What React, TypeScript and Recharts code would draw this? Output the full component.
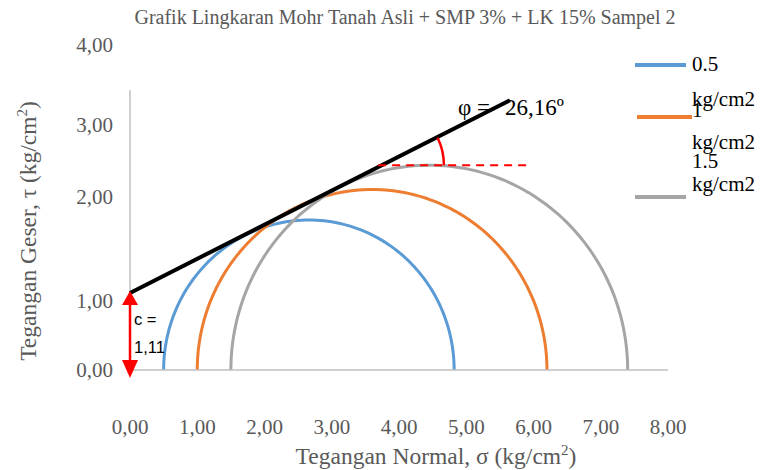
import React from "react";
import {
  ComposedChart,
  Line,
  XAxis,
  YAxis,
  ReferenceLine,
  ReferenceDot,
} from "recharts";

// confining stress (sigma3) and major principal stress (sigma1) per sample, kg/cm2
const SIGMA3 = [0.5, 1.0, 1.5];
const SIGMA1 = [4.82, 6.2, 7.4];
const SERIES_NAMES = ["0.5 kg/cm2", "1 kg/cm2", "1.5 kg/cm2"];
const COLORS = ["#5B9BD5", "#ED7D31", "#A5A5A5"];

const X_TICKS = [0, 1, 2, 3, 4, 5, 6, 7, 8];
// the y labels in the source sit at uneven heights
const Y_TICKS = [0, 1.0, 2.5, 3.53, 4.68];
const Y_TICK_LABELS = ["0,00", "1,00", "2,00", "3,00", "4,00"];
const Y_MAX = 4.68;
const Y_AXIS_TOP = 4.03;

const COHESION = 1.11;
const PHI_DEG = 26.16;
const ENVELOPE_END = 5.65;
const DASH_FROM = 3.69;
const DASH_TO = 5.98;

const FONT = "'Liberation Serif', 'Times New Roman', serif";
const SANS = "'Liberation Sans', Arial, sans-serif";
const GREY_TEXT = "#595959";

const fmt = (v: number) => v.toFixed(2).replace(".", ",");

// half circle through (s3,0) and (s1,0)
function mohrCircle(s3: number, s1: number) {
  const c = (s1 + s3) / 2;
  const r = (s1 - s3) / 2;
  const pts = [];
  for (let i = 0; i <= 120; i++) {
    const a = Math.PI - (Math.PI * i) / 120;
    pts.push({ x: c + r * Math.cos(a), y: r * Math.sin(a) });
  }
  return pts;
}

const tanPhi = Math.tan((PHI_DEG * Math.PI) / 180);
const envelope = [
  { x: 0, y: COHESION },
  { x: ENVELOPE_END, y: COHESION + tanPhi * ENVELOPE_END },
];
const topTau = (SIGMA1[2] - SIGMA3[2]) / 2;
const arcAt = { x: (topTau - COHESION) / tanPhi, y: topTau };

const ArrowUp = (p: any) => (
  <g>
    <polygon
      points={`${p.cx - 8},${p.cy + 12} ${p.cx + 8},${p.cy + 12} ${p.cx},${p.cy - 2}`}
      fill="#FF0000"
    />
    <text x={p.cx + 4} y={p.cy + 32} fontFamily={SANS} fontSize={16.5} fill="#000">
      c =
    </text>
    <text x={p.cx + 4} y={p.cy + 60} fontFamily={SANS} fontSize={16.5} fill="#000">
      {fmt(COHESION)}
    </text>
  </g>
);

const ArrowDown = (p: any) => (
  <polygon
    points={`${p.cx - 8},${p.cy - 10} ${p.cx + 8},${p.cy - 10} ${p.cx},${p.cy + 8}`}
    fill="#FF0000"
  />
);

const PhiArc = (p: any) => {
  const r = 62;
  const a = (PHI_DEG * Math.PI) / 180;
  const ex = p.cx + r * Math.cos(a);
  const ey = p.cy - r * Math.sin(a);
  return (
    <path
      d={`M ${p.cx + r} ${p.cy} A ${r} ${r} 0 0 0 ${ex} ${ey}`}
      fill="none"
      stroke="#FF0000"
      strokeWidth={2.5}
    />
  );
};

const PhiLabel = (p: any) => (
  <text y={p.cy + 15} fontFamily={FONT} fontSize={23} fill="#000">
    <tspan x={p.cx - 52}>φ =</tspan>
    <tspan x={p.cx - 5}>{`${fmt(PHI_DEG)}º`}</tspan>
  </text>
);

// legend rows copy the odd wrapping of the source picture
const LEGEND_LINE_Y = [65, 117, 197];
const LEGEND_LINE_X = [[635, 686], [637, 692], [635, 686]];
const LEGEND_TEXT_Y = [[71, 106], [117, 149], [168, 191]];

export default function App() {
  return (
    <div style={{ position: "absolute", left: 0, top: 0, width: 765, height: 470, background: "#fff" }}>
      <ComposedChart width={765} height={470} margin={{ top: 45, right: 97, left: 60, bottom: 0 }}>
        <XAxis
          type="number"
          dataKey="x"
          domain={[0, 8]}
          ticks={X_TICKS}
          tickFormatter={fmt}
          axisLine={{ stroke: "#BFBFBF", strokeWidth: 1.5 }}
          tickLine={false}
          tickMargin={43}
          height={100}
          tick={{ fontFamily: FONT, fontSize: 21, fill: GREY_TEXT }}
        />
        <YAxis
          type="number"
          domain={[0, Y_MAX]}
          ticks={Y_TICKS}
          tickFormatter={(v: number, i: number) => Y_TICK_LABELS[i]}
          axisLine={false}
          tickLine={false}
          tickMargin={11}
          width={70}
          tick={{ fontFamily: FONT, fontSize: 21, fill: GREY_TEXT }}
        />
        <ReferenceLine
          segment={[{ x: 0, y: 0 }, { x: 0, y: Y_AXIS_TOP }]}
          stroke="#BFBFBF"
          strokeWidth={1.5}
        />
        {SIGMA3.map((s3, i) => (
          <Line
            key={SERIES_NAMES[i]}
            name={SERIES_NAMES[i]}
            data={mohrCircle(s3, SIGMA1[i])}
            dataKey="y"
            type="linear"
            stroke={COLORS[i]}
            strokeWidth={3}
            dot={false}
            isAnimationActive={false}
          />
        ))}
        <Line
          data={envelope}
          dataKey="y"
          type="linear"
          stroke="#000"
          strokeWidth={4}
          dot={false}
          isAnimationActive={false}
        />
        <ReferenceLine
          segment={[{ x: DASH_FROM, y: topTau }, { x: DASH_TO, y: topTau }]}
          stroke="#FF0000"
          strokeWidth={2}
          strokeDasharray="8 6"
        />
        <ReferenceLine
          segment={[{ x: 0, y: 0 }, { x: 0, y: COHESION }]}
          stroke="#FF0000"
          strokeWidth={2.5}
          ifOverflow="visible"
        />
        <ReferenceDot x={0} y={COHESION} r={0} shape={ArrowUp} ifOverflow="visible" />
        <ReferenceDot x={0} y={0} r={0} shape={ArrowDown} ifOverflow="visible" />
        <ReferenceDot x={arcAt.x} y={arcAt.y} r={0} shape={PhiArc} ifOverflow="visible" />
        <ReferenceDot x={envelope[1].x} y={envelope[1].y} r={0} shape={PhiLabel} ifOverflow="visible" />
      </ComposedChart>

      <svg
        width={765}
        height={470}
        style={{ position: "absolute", left: 0, top: 0, pointerEvents: "none" }}
      >
        <text x={405} y={24} textAnchor="middle" fontFamily={FONT} fontSize={20} fill={GREY_TEXT}>
          Grafik Lingkaran Mohr Tanah Asli + SMP 3% + LK 15% Sampel 2
        </text>
        <text x={436} y={464} textAnchor="middle" fontFamily={FONT} fontSize={23.5} fill={GREY_TEXT}>
          Tegangan Normal, σ (kg/cm<tspan dy={-9} fontSize={15}>2</tspan>
          <tspan dy={9}>)</tspan>
        </text>
        <text
          transform="translate(36 231) rotate(-90)"
          textAnchor="middle"
          fontFamily={FONT}
          fontSize={23.5}
          fill={GREY_TEXT}
        >
          Tegangan Geser, τ (kg/cm<tspan dy={-9} fontSize={15}>2</tspan>
          <tspan dy={9}>)</tspan>
        </text>

        {SERIES_NAMES.map((name, i) => {
          const [num, unit] = name.split(" ");
          return (
            <g key={name}>
              <line
                x1={LEGEND_LINE_X[i][0]}
                x2={LEGEND_LINE_X[i][1]}
                y1={LEGEND_LINE_Y[i]}
                y2={LEGEND_LINE_Y[i]}
                stroke={COLORS[i]}
                strokeWidth={4}
              />
              <text x={692} y={LEGEND_TEXT_Y[i][0]} fontFamily={FONT} fontSize={21} fill="#000">
                {num}
              </text>
              <text x={692} y={LEGEND_TEXT_Y[i][1]} fontFamily={FONT} fontSize={21} fill="#000">
                {unit}
              </text>
            </g>
          );
        })}
      </svg>
    </div>
  );
}
